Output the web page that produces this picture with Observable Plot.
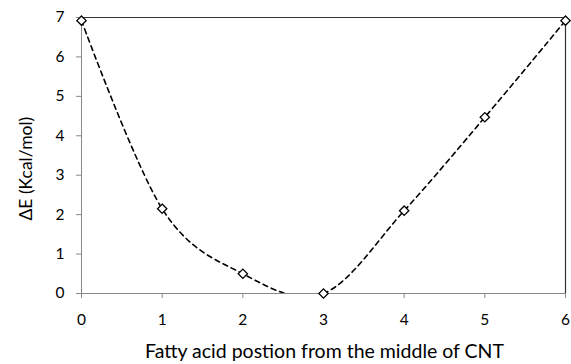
<!DOCTYPE html>
<html><head><meta charset="utf-8">
<script src="https://cdn.jsdelivr.net/npm/d3@7"></script>
<script src="https://cdn.jsdelivr.net/npm/@observablehq/plot@0.6"></script>
<style>body{margin:0;background:#fff}</style>
</head><body><div id="chart"></div>
<script>
const positions = [0, 1, 2, 3, 4, 5, 6];
const deltaE = [6.92, 2.15, 0.5, 0.0, 2.1, 4.47, 6.92];
const xTicks = [0, 1, 2, 3, 4, 5, 6];
const yTicks = [0, 1, 2, 3, 4, 5, 6, 7];
const xLabel = "Fatty acid postion from the middle of CNT";
const yLabel = "ΔE (Kcal/mol)";

const data = positions.map((p, i) => ({x: p, y: deltaE[i]}));

const chart = Plot.plot({
  width: 571, height: 364,
  marginLeft: 81, marginRight: 6, marginTop: 17, marginBottom: 71,
  style: {fontFamily: "Lato, sans-serif", fontSize: "15.5px", color: "#000", background: "#fff"},
  x: {domain: [0, 6], ticks: xTicks, label: null},
  y: {domain: [0, 7], ticks: yTicks, label: null},
  marks: [
    Plot.ruleY([7], {stroke: "#333", strokeWidth: 1.2}),
    Plot.ruleX([6], {stroke: "#333", strokeWidth: 1.2}),
    Plot.line(data, {x: "x", y: "y", curve: d3.curveCardinal.tension(0), stroke: "#000", strokeWidth: 1.6, strokeDasharray: "5,4", clip: true}),
    Plot.ruleX([0], {stroke: "#888"}),
    Plot.ruleY([0], {stroke: "#888"}),
    Plot.axisX({ticks: xTicks, tickFormat: d3.format("d"), tickSize: 5, tickPadding: 15, stroke: "#888", fill: "#000", label: null, fontSize: 15.5}),
    Plot.axisY({ticks: yTicks, tickFormat: d3.format("d"), tickSize: 5, tickPadding: 12, stroke: "#888", fill: "#000", label: null, fontSize: 15.5}),
    Plot.dot(data, {x: "x", y: "y", symbol: "diamond2", r: 4.2, fill: "#fff", stroke: "#000", strokeWidth: 1.3}),
    Plot.text([xLabel], {frameAnchor: "bottom", dy: 64, dx: 1, fontSize: 19.5, fill: "#000"}),
    Plot.text([yLabel], {frameAnchor: "left", dx: -55, dy: 65, rotate: -90, fontSize: 17.5, fill: "#000"})
  ]
});
document.getElementById("chart").appendChild(chart);
</script></body></html>
